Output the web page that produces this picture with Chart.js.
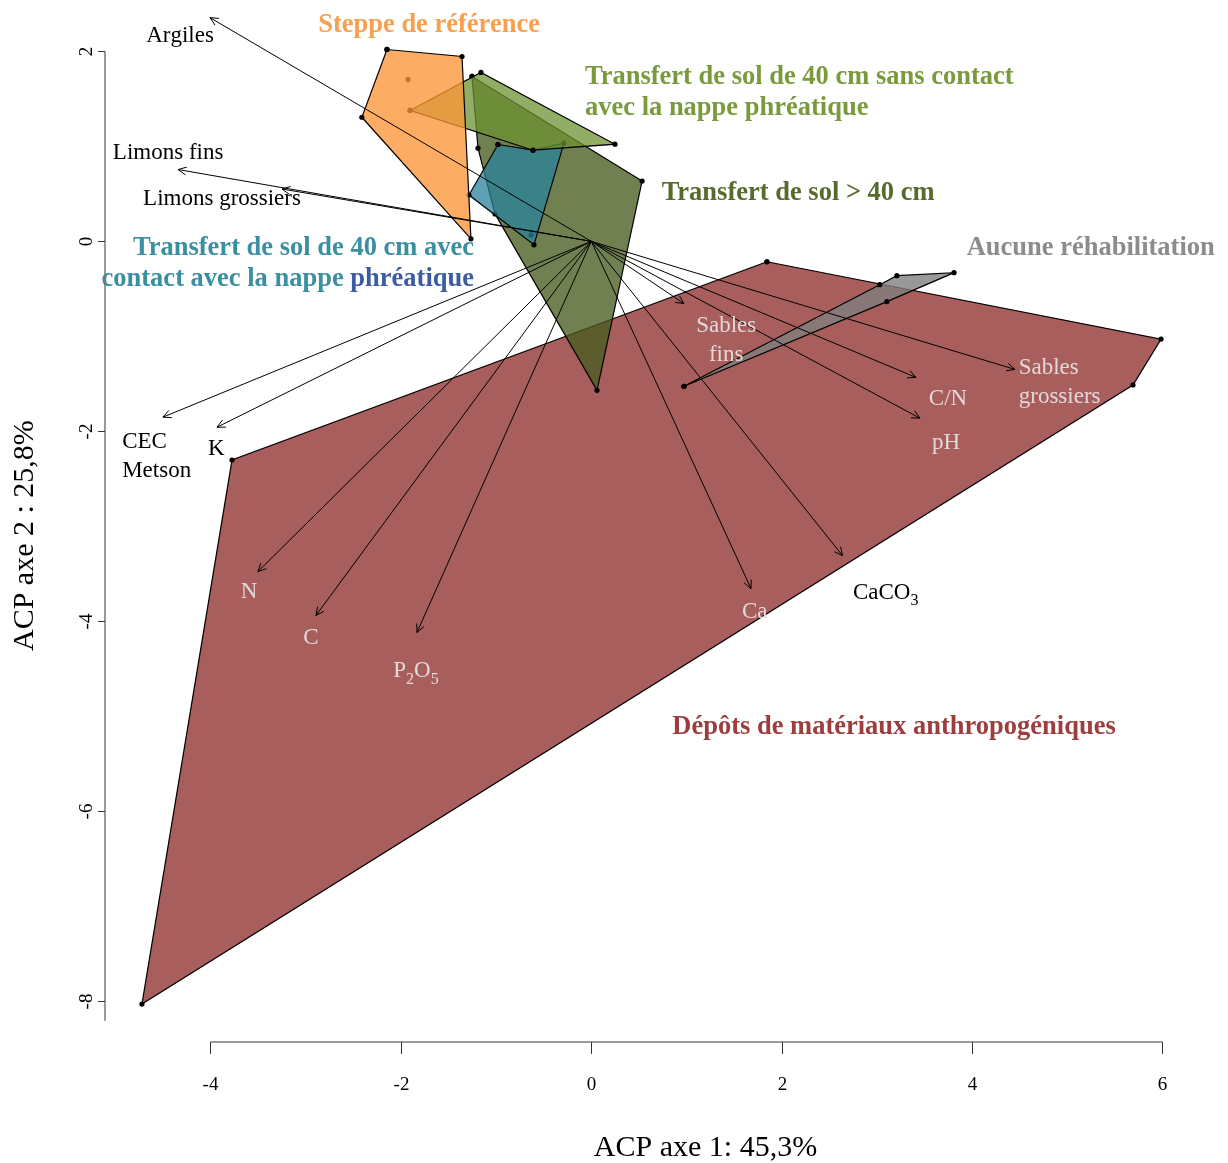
<!DOCTYPE html>
<html><head><meta charset="utf-8">
<script src="https://cdn.jsdelivr.net/npm/chart.js@4.4.1/dist/chart.umd.min.js"></script>
<style>html,body{margin:0;padding:0;background:#fff;}canvas{display:block}</style>
</head><body>
<canvas id="c" width="1228" height="1163"></canvas>
<script>
// ---------- DATA ----------
const xTicks = [-4, -2, 0, 2, 4, 6];
const yTicks = [2, 0, -2, -4, -6, -8];
const xTitle = 'ACP axe 1: 45,3%';
const yTitle = 'ACP axe 2 : 25,8%';

// variable loadings (arrow tips)
const varNames = ['Argiles','Limons fins','Limons grossiers','CEC\nMetson','K','N','C','P_2O_5','Ca','CaCO_3','Sables\nfins','C/N','pH','Sables\ngrossiers'];
const varPC1 = [-4.005,-4.34,-3.249,-4.50,-3.932,-3.502,-2.892,-1.831,1.678,2.640,0.974,3.410,3.452,4.450];
const varPC2 = [2.356,0.756,0.551,-1.852,-1.958,-3.479,-3.941,-4.120,-3.658,-3.311,-0.656,-1.433,-1.863,-1.349];

// group hulls (PCA scores) and inner points
const depotsHull  = [[1.845,-0.215],[5.985,-1.03],[5.69,-1.513],[-4.72,-8.035],[-3.774,-2.304]];
const aucuneHull  = [[0.974,-1.527],[3.03,-0.457],[3.21,-0.362],[3.81,-0.33],[3.105,-0.635]];
const sup40Hull   = [[-1.253,1.737],[0.534,0.635],[0.06,-1.569],[-1.011,0.289],[-1.19,0.981]];
const avecHull    = [[-0.98,1.02],[-0.612,0.96],[-0.287,1.034],[-0.602,-0.037],[-1.285,0.488]];
const avecInner   = [[-0.633,0.068]];
const sansHull    = [[-1.904,1.379],[-1.159,1.779],[0.249,1.023],[-0.612,0.96]];
const steppeHull  = [[-2.146,2.021],[-1.358,1.947],[-1.264,0.026],[-2.41,1.307]];
const steppeInner = [[-1.925,1.706]];

// ---------- LAYOUT / STYLE ----------
const varLabelX = [-4.32,-4.445,-3.879,-4.928,-3.94,-3.595,-2.944,-1.841,1.717,3.093,1.417,3.747,3.726,4.49];
const varLabelY = [2.167,0.929,0.446,-2.116,-2.189,-3.69,-4.183,-4.53,-3.9,-3.7,-0.887,-1.664,-2.126,-1.338];
const varLabelAlign = ['center','center','center','left','center','center','center','center','center','center','center','center','center','left'];
const varLabelLight = [false,false,false,false,false,true,true,true,true,false,true,true,true,true];

const groupTitles = [
  {x:-1.704, y:2.273, align:'center', lines:[[['Steppe de référence','#f7a050']]]},
  {x:-0.066, y:1.727, align:'left', lines:[[['Transfert de sol de 40 cm sans contact','#7b9a3c']],[['avec la nappe phréatique','#7b9a3c']]]},
  {x:0.739, y:0.509, align:'left', lines:[[['Transfert de sol > 40 cm','#586a2c']]]},
  {x:3.943, y:-0.068, align:'left', lines:[[['Aucune réhabilitation','#8c8c8c']]]},
  {x:-1.232, y:-0.068, align:'right', lines:[[['Transfert de sol de 40 cm avec','#3a8fa3']],[['contact avec la nappe ','#3a8fa3'],['phréatique','#3b5ca3']]]},
  {x:3.18, y:-5.117, align:'center', lines:[[['Dépôts de matériaux anthropogéniques','#9e3d3d']]]}
];

const SERIF = '"Liberation Serif", "DejaVu Serif", serif';

function toPts(arr){ return arr.map(p => ({x:p[0], y:p[1]})); }
function closed(arr){ const a = toPts(arr); a.push({x:arr[0][0], y:arr[0][1]}); return a; }

function polyDS(hull, fillColor, order){
  return {type:'scatter', data: closed(hull), showLine:true, fill:'shape', backgroundColor:fillColor,
    borderColor:'#000', borderWidth:1.2, tension:0, pointRadius:2.6, pointBackgroundColor:'#000',
    pointBorderWidth:0, pointHoverRadius:2.6, clip:false, order:order};
}
function ptsDS(pts, order){
  return {type:'scatter', data: toPts(pts), showLine:false, pointRadius:2.6, pointBackgroundColor:'#000',
    pointBorderWidth:0, clip:false, order:order};
}

function drawRich(ctx, text, x, y, align, font, size, color){
  // supports subscripts written as _d
  const segs = [];
  for (let i=0;i<text.length;i++){
    if (text[i]==='_' && i+1<text.length){ segs.push({t:text[i+1], sub:true}); i++; }
    else segs.push({t:text[i], sub:false});
  }
  const subSize = Math.round(size*0.68);
  let w = 0;
  segs.forEach(s => { ctx.font = (s.sub?subSize:size)+'px '+font; s.w = ctx.measureText(s.t).width; w += s.w; });
  let sx = align==='center' ? x - w/2 : (align==='right' ? x - w : x);
  ctx.fillStyle = color; ctx.textAlign='left'; ctx.textBaseline='middle';
  segs.forEach(s => { ctx.font = (s.sub?subSize:size)+'px '+font; ctx.fillText(s.t, sx, y + (s.sub? size*0.35:0)); sx += s.w; });
}

const overlay = {
  id:'overlay',
  afterDatasetsDraw(chart){
    const ctx = chart.ctx, xs = chart.scales.x, ys = chart.scales.y;
    const px = v => xs.getPixelForValue(v), py = v => ys.getPixelForValue(v);
    ctx.save();
    // arrows
    const ox = px(0), oy = py(0);
    ctx.strokeStyle = '#000'; ctx.lineWidth = 1;
    for (let i=0;i<varNames.length;i++){
      const tx = px(varPC1[i]), ty = py(varPC2[i]);
      ctx.beginPath(); ctx.moveTo(ox, oy); ctx.lineTo(tx, ty); ctx.stroke();
      const a = Math.atan2(ty-oy, tx-ox), L = 9, s = Math.PI/7;
      ctx.beginPath();
      ctx.moveTo(tx - L*Math.cos(a-s), ty - L*Math.sin(a-s));
      ctx.lineTo(tx, ty);
      ctx.lineTo(tx - L*Math.cos(a+s), ty - L*Math.sin(a+s));
      ctx.stroke();
    }
    // variable labels
    for (let i=0;i<varNames.length;i++){
      const lines = varNames[i].split('\n');
      const lx = px(varLabelX[i]), ly = py(varLabelY[i]);
      const col = varLabelLight[i] ? '#e4d8d8' : '#000';
      lines.forEach((ln, k) => drawRich(ctx, ln, lx, ly + k*29, varLabelAlign[i], SERIF, 23, col));
    }
    // group titles
    groupTitles.forEach(g => {
      const gx = px(g.x), gy = py(g.y);
      g.lines.forEach((parts, k) => {
        ctx.font = 'bold 26.5px ' + SERIF;
        let w = 0; parts.forEach(p => { w += ctx.measureText(p[0]).width; });
        let sx = g.align==='center' ? gx - w/2 : (g.align==='right' ? gx - w : gx);
        ctx.textAlign = 'left'; ctx.textBaseline = 'middle';
        parts.forEach(p => { ctx.fillStyle = p[1]; ctx.fillText(p[0], sx, gy + k*31); sx += ctx.measureText(p[0]).width; });
      });
    });
    ctx.restore();
  },
  afterDraw(chart){
    const ctx = chart.ctx, xs = chart.scales.x, ys = chart.scales.y, ca = chart.chartArea;
    ctx.save();
    // x axis
    const ay = ca.bottom;
    ctx.strokeStyle = '#777'; ctx.lineWidth = 1.5;
    ctx.beginPath(); ctx.moveTo(xs.getPixelForValue(xTicks[0]), ay); ctx.lineTo(xs.getPixelForValue(xTicks[xTicks.length-1]), ay); ctx.stroke();
    ctx.strokeStyle = '#333'; ctx.lineWidth = 1;
    ctx.fillStyle = '#000'; ctx.font = '19px ' + SERIF; ctx.textAlign = 'center'; ctx.textBaseline = 'middle';
    xTicks.forEach(t => {
      const x = Math.round(xs.getPixelForValue(t)) + 0.5;
      ctx.beginPath(); ctx.moveTo(x, ay); ctx.lineTo(x, ay + 12); ctx.stroke();
      ctx.fillText(String(t), x, ay + 43);
    });
    ctx.font = '30px ' + SERIF;
    ctx.fillText(xTitle, (xs.getPixelForValue(0) + xs.getPixelForValue(2.4)) / 2, ay + 106);
    // y axis
    const ax = ca.left;
    ctx.strokeStyle = '#777'; ctx.lineWidth = 1.5;
    ctx.beginPath(); ctx.moveTo(ax, ys.getPixelForValue(yTicks[0])); ctx.lineTo(ax, ys.getPixelForValue(-8.21)); ctx.stroke();
    ctx.strokeStyle = '#333'; ctx.lineWidth = 1;
    ctx.font = '19px ' + SERIF;
    yTicks.forEach(t => {
      const y = Math.round(ys.getPixelForValue(t)) + 0.5;
      ctx.beginPath(); ctx.moveTo(ax, y); ctx.lineTo(ax - 7, y); ctx.stroke();
      ctx.save(); ctx.translate(ax - 18, y); ctx.rotate(-Math.PI/2);
      ctx.textAlign = 'center'; ctx.textBaseline = 'middle'; ctx.fillText(String(t), 0, 0); ctx.restore();
    });
    ctx.save(); ctx.translate(25, ys.getPixelForValue(-3.1)); ctx.rotate(-Math.PI/2);
    ctx.font = '30px ' + SERIF; ctx.textAlign = 'center'; ctx.textBaseline = 'middle';
    ctx.fillText(yTitle, 0, 0); ctx.restore();
    ctx.restore();
  }
};

const datasets = [
  polyDS(depotsHull, 'rgba(168,94,92,1)', 20),
  polyDS(aucuneHull, 'rgba(128,128,128,0.8)', 18),
  polyDS(sup40Hull, 'rgba(72,92,31,0.78)', 16),
  ptsDS(avecInner, 15),
  polyDS(avecHull, 'rgba(40,130,155,0.75)', 14),
  polyDS(sansHull, 'rgba(110,145,50,0.75)', 12),
  ptsDS(steppeInner, 11),
  polyDS(steppeHull, 'rgba(253,150,55,0.78)', 10)
];

new Chart(document.getElementById('c'), {
  type:'scatter',
  data:{datasets},
  options:{
    responsive:false, devicePixelRatio:1, animation:false,
    layout:{padding:{left:105, right:8.4, top:0.3, bottom:121}},
    plugins:{legend:{display:false}, tooltip:{enabled:false}, filler:{propagate:false}},
    events:[],
    scales:{
      x:{type:'linear', min:-5.108, max:6.6, display:false},
      y:{type:'linear', min:-8.434, max:2.5, display:false}
    }
  },
  plugins:[overlay]
});
</script>
</body></html>
